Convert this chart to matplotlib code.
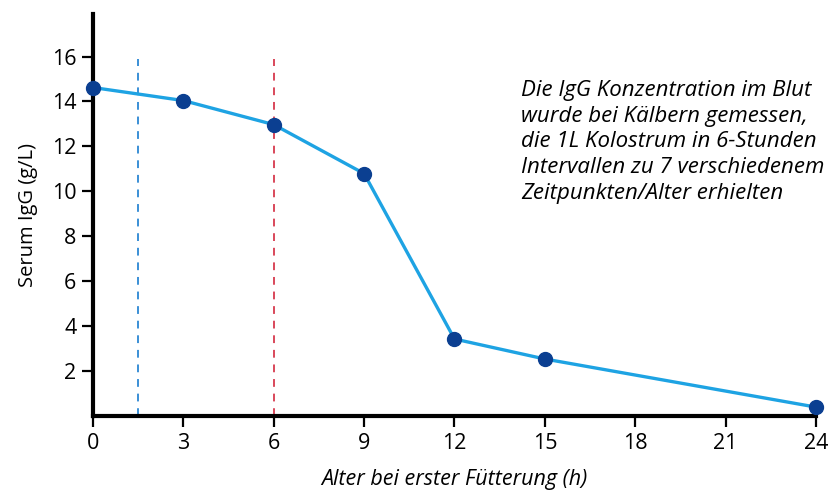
import matplotlib
matplotlib.use('Agg')
import matplotlib.pyplot as plt

# Serum IgG vs age at first feeding
hours = [0, 3, 6, 9, 12, 15, 24]
igg = [14.62, 14.04, 12.97, 10.79, 3.43, 2.54, 0.40]
x_ticks = [0, 3, 6, 9, 12, 15, 18, 21, 24]
y_ticks = [2, 4, 6, 8, 10, 12, 14, 16]
vlines_x = [1.5, 6]
vlines_colors = ['#3a8fd6', '#d9475a']

note = ("Die IgG Konzentration im Blut\n"
        "wurde bei Kälbern gemessen,\n"
        "die 1L Kolostrum in 6-Stunden\n"
        "Intervallen zu 7 verschiedenem\n"
        "Zeitpunkten/Alter erhielten")

plt.rcParams['font.family'] = ['Open Sans', 'DejaVu Sans']

fig = plt.figure(figsize=(8.4, 4.93), dpi=100)
ax = fig.add_axes([0.1107, 0.156, 0.8607, 0.816])

for xv, c in zip(vlines_x, vlines_colors):
    ax.plot([xv, xv], [0, 15.9], color=c, linestyle=(0, (4, 3.5)), linewidth=1.4, zorder=1)

ax.plot(hours, igg, color='#1ea3e3', linewidth=2.4, marker='o', markersize=10,
        markerfacecolor='#0b3f91', markeredgecolor='#0b3f91', zorder=3, clip_on=False)

ax.set_xlim(0, 24)
ax.set_ylim(0, 17.9)
ax.set_xticks(x_ticks)
ax.set_yticks(y_ticks)
ax.tick_params(axis='both', direction='out', length=8, width=1.6, labelsize=15.5, pad=4)

for side in ['top', 'right']:
    ax.spines[side].set_visible(False)
for side in ['left', 'bottom']:
    ax.spines[side].set_linewidth(3)

ax.set_xlabel('Alter bei erster Fütterung (h)', fontsize=15.5, style='italic', labelpad=11)
ax.set_ylabel('Serum IgG (g/L)', fontsize=14.5, labelpad=10)

fig.text(0.62, 0.838, note, fontsize=16, style='italic', ha='left', va='top', linespacing=1.3)

fig.savefig('out.png', dpi=100)
